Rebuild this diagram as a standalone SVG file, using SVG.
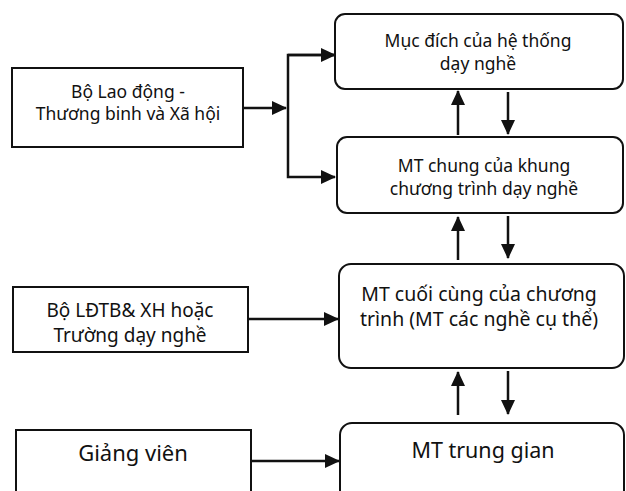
<svg xmlns="http://www.w3.org/2000/svg" width="626" height="491" viewBox="0 0 626 491">
<defs>
<marker id="ah" markerWidth="15" markerHeight="14" refX="14" refY="7" orient="auto" markerUnits="userSpaceOnUse">
<path d="M0,0 L15,7 L0,14 Z" fill="#111"/>
</marker>
<style>
.box{fill:#fff;stroke:#111;stroke-width:2}
.t{font-family:"Noto Sans","Open Sans",sans-serif;fill:#111;text-anchor:middle}
.c{stroke:#111;stroke-width:2.5;fill:none}
</style>
</defs>
<rect width="626" height="491" fill="#fff"/>
<g id="n1"><rect class="box" x="335" y="14" width="288" height="75" rx="10"/>
<text class="t" font-size="17.5" x="478" y="47">Mục đích của hệ thống</text>
<text class="t" font-size="17.5" x="478" y="70">dạy nghề</text></g>
<g id="n2"><rect class="box" x="337" y="137" width="286" height="76" rx="10"/>
<text class="t" font-size="17.5" x="484" y="172">MT chung của khung</text>
<text class="t" font-size="17.5" x="484" y="195">chương trình dạy nghề</text></g>
<g id="n3"><rect class="box" x="339" y="264" width="285" height="104" rx="12"/>
<text class="t" font-size="19.5" x="479" y="301">MT cuối cùng của chương</text>
<text class="t" font-size="19.5" x="479" y="326">trình (MT các nghề cụ thể)</text></g>
<g id="n4"><rect class="box" x="340" y="423" width="284" height="90" rx="12"/>
<text class="t" font-size="21.5" x="483" y="458">MT trung gian</text></g>
<g id="s1"><rect class="box" x="12" y="68" width="231" height="79"/>
<text class="t" font-size="17.5" x="128" y="98">Bộ Lao động -</text>
<text class="t" font-size="17.5" x="128" y="120">Thương binh và Xã hội</text></g>
<g id="s2"><rect class="box" x="13" y="287" width="235" height="65"/>
<text class="t" font-size="19" x="130" y="317">Bộ LĐTB&amp; XH hoặc</text>
<text class="t" font-size="19" x="130" y="342">Trường dạy nghề</text></g>
<g id="s3"><rect class="box" x="16" y="430" width="235" height="80"/>
<text class="t" font-size="22" x="133" y="461">Giảng viên</text></g>
<g id="connectors">
<line class="c" x1="243" y1="108" x2="286" y2="108" marker-end="url(#ah)"/>
<polyline class="c" points="335,55 288,55 288,177 335,177" marker-end="url(#ah)"/>
<line class="c" x1="288" y1="55" x2="335" y2="55" marker-end="url(#ah)"/>
<line class="c" x1="458" y1="135" x2="458" y2="91" marker-end="url(#ah)"/>
<line class="c" x1="508" y1="92" x2="508" y2="134" marker-end="url(#ah)"/>
<line class="c" x1="458" y1="260" x2="458" y2="217" marker-end="url(#ah)"/>
<line class="c" x1="508" y1="216" x2="508" y2="258" marker-end="url(#ah)"/>
<line class="c" x1="458" y1="415" x2="458" y2="372" marker-end="url(#ah)"/>
<line class="c" x1="508" y1="371" x2="508" y2="414" marker-end="url(#ah)"/>
<line class="c" x1="248" y1="319" x2="338" y2="319" marker-end="url(#ah)"/>
<line class="c" x1="251" y1="461" x2="339" y2="461" marker-end="url(#ah)"/>
</g>
</svg>
